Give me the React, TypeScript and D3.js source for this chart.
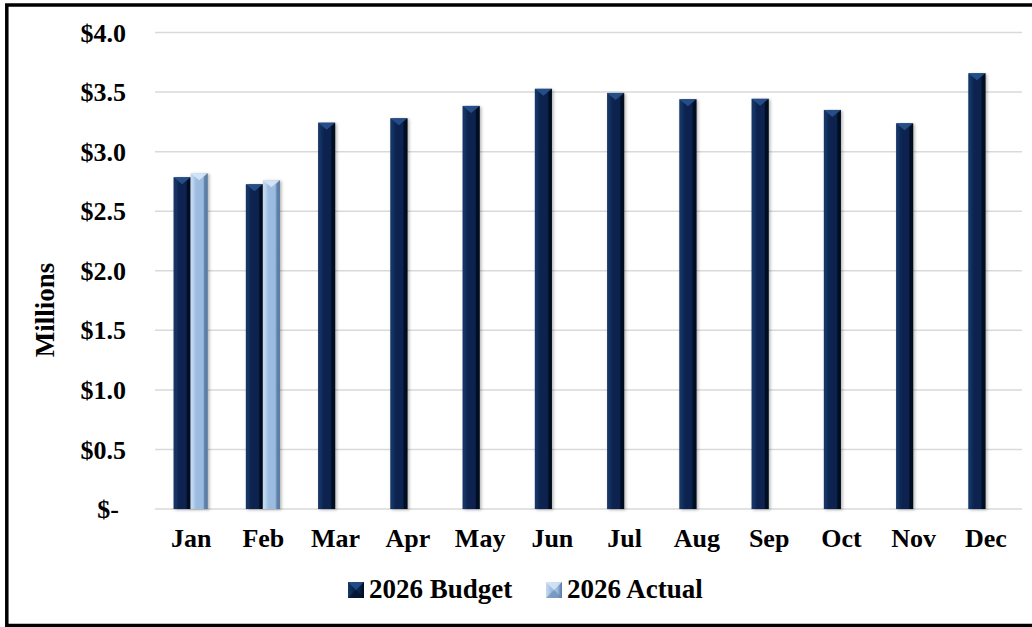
import React from 'react';
import * as d3 from 'd3';

const months = ['Jan', 'Feb', 'Mar', 'Apr', 'May', 'Jun', 'Jul', 'Aug', 'Sep', 'Oct', 'Nov', 'Dec'];
const budget2026 = [2.785, 2.726, 3.243, 3.28, 3.384, 3.527, 3.493, 3.44, 3.443, 3.35, 3.238, 3.658];
const actual2026 = [2.818, 2.76];
const yTickValues = [0, 0.5, 1.0, 1.5, 2.0, 2.5, 3.0, 3.5, 4.0];
const yTickLabels = ['$-', '$0.5', '$1.0', '$1.5', '$2.0', '$2.5', '$3.0', '$3.5', '$4.0'];
const seriesNames = ['2026 Budget', '2026 Actual'];

const W = 1032;
const H = 627;
const FONT = '"Liberation Serif", "Times New Roman", serif';

type Palette = { left: string; body: string; right: string; top: string; id: string };
const palettes: Palette[] = [
  { id: 'bud', left: '#163768', body: '#08244f', right: '#010a1c', top: '#2b5590' },
  { id: 'act', left: '#c6dbf2', body: '#9bbbe0', right: '#587aa0', top: '#dceaf8' },
];

function BevelBar({ x, y, w, h, p }: { x: number; y: number; w: number; h: number; p: Palette }) {
  const side = 3.5;
  const tri = Math.min(7, h);
  const xc = x + w / 2;
  return (
    <g filter="url(#shadow)">
      <rect x={x} y={y} width={w} height={h} fill={`url(#grad-${p.id})`} />
      <polygon
        points={`${x},${y} ${x + side},${y + side} ${x + side},${y + h} ${x},${y + h}`}
        fill={p.left}
        opacity={0.4}
      />
      <polygon
        points={`${x + w},${y} ${x + w - side},${y + side} ${x + w - side},${y + h} ${x + w},${y + h}`}
        fill={p.right}
        opacity={0.75}
      />
      <polygon points={`${x},${y} ${x + w},${y} ${xc},${y + tri}`} fill={p.top} opacity={0.85} />
    </g>
  );
}

export default function App() {
  const x = d3.scaleBand<string>().domain(months).range([155, 1022]).paddingInner(0).paddingOuter(0);
  const y = d3.scaleLinear().domain([0, 4]).range([509, 32.5]);
  const barW = 17;

  return (
    <svg
      width={W}
      height={H}
      style={{ position: 'absolute', left: 0, top: 0, background: '#fff' }}
      fontFamily={FONT}
    >
      <defs>
        {palettes.map((p) => (
          <linearGradient key={p.id} id={`grad-${p.id}`} x1="0" x2="1" y1="0" y2="0">
            <stop offset="0" stopColor={p.left} />
            <stop offset="0.35" stopColor={p.body} />
            <stop offset="0.7" stopColor={p.body} />
            <stop offset="1" stopColor={p.right} />
          </linearGradient>
        ))}
        <filter id="shadow" x="-40%" y="-10%" width="180%" height="120%">
          <feDropShadow dx="1.5" dy="1" stdDeviation="1.5" floodColor="#000" floodOpacity="0.3" />
        </filter>
      </defs>

      <rect x={0} y={0} width={W} height={H} fill="#fff" />

      {yTickValues.map((v) => (
        <line key={`g${v}`} x1={155} x2={1022} y1={y(v)} y2={y(v)} stroke="#d9d9d9" strokeWidth={1.5} />
      ))}

      {yTickValues.map((v, i) => (
        <text
          key={`t${v}`}
          x={v === 0 ? 119 : 126}
          y={y(v)}
          dy="0.35em"
          textAnchor="end"
          fontSize={26}
          fontWeight="bold"
          fill="#000"
        >
          {yTickLabels[i]}
        </text>
      ))}

      <text
        transform="translate(54,310) rotate(-90)"
        textAnchor="middle"
        fontSize={27}
        fontWeight="bold"
        fill="#000"
      >
        Millions
      </text>

      {months.map((m, i) => {
        const cx = (x(m) as number) + x.bandwidth() / 2;
        const vb = budget2026[i];
        const va = actual2026[i];
        return (
          <g key={m}>
            <BevelBar x={cx - barW - 0.5} y={y(vb)} w={barW} h={y(0) - y(vb)} p={palettes[0]} />
            {va !== undefined && (
              <BevelBar x={cx - 0.5} y={y(va)} w={barW} h={y(0) - y(va)} p={palettes[1]} />
            )}
          </g>
        );
      })}

      {months.map((m) => (
        <text
          key={`x${m}`}
          x={(x(m) as number) + x.bandwidth() / 2}
          y={547}
          textAnchor="middle"
          fontSize={26}
          fontWeight="bold"
          fill="#000"
        >
          {m}
        </text>
      ))}

      {seriesNames.map((s, i) => {
        const lx = i === 0 ? 348 : 546;
        const p = palettes[i];
        return (
          <g key={s}>
            <rect x={lx} y={582} width={16} height={16} fill={`url(#grad-${p.id})`} />
            <polygon points={`${lx},${582} ${lx + 16},${582} ${lx + 8},${590}`} fill={p.top} opacity={0.8} />
            <polygon points={`${lx},${598} ${lx + 16},${598} ${lx + 8},${590}`} fill={p.right} opacity={0.5} />
            <text x={lx + 21} y={598} fontSize={27} fontWeight="bold" fill="#000">
              {s}
            </text>
          </g>
        );
      })}

      <rect x={6.8} y={5} width={W + 20} height={620.5} fill="none" stroke="#000" strokeWidth={3.5} />
    </svg>
  );
}
